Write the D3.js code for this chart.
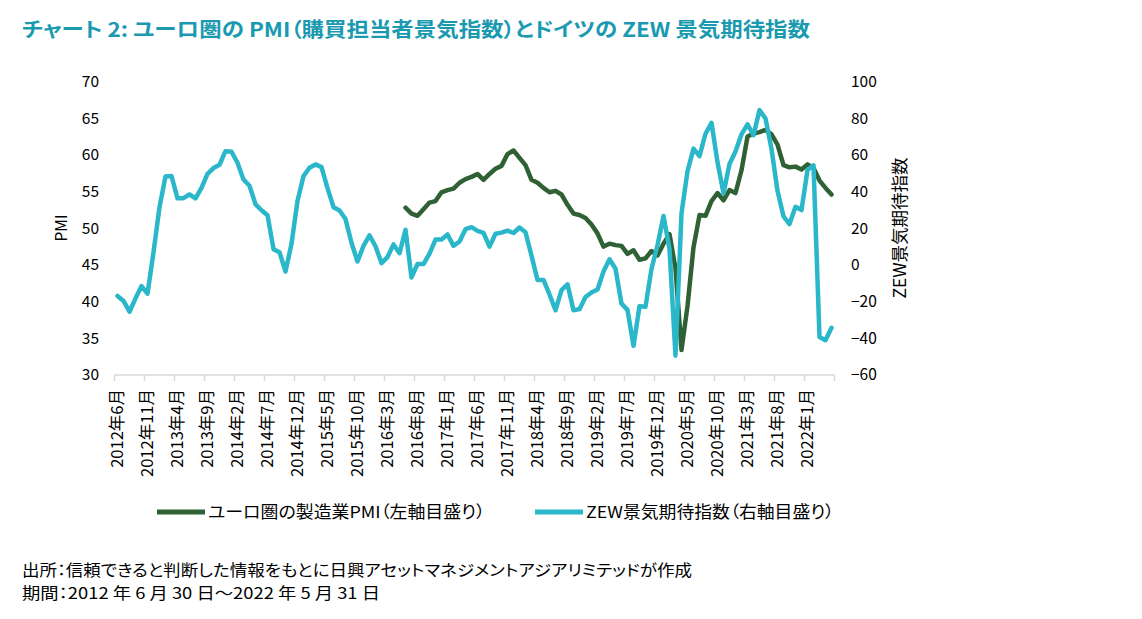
<!DOCTYPE html>
<html><head><meta charset="utf-8">
<script src="https://cdn.jsdelivr.net/npm/d3@7"></script>
<style>body{margin:0;background:#fff;} svg{display:block;} .p{font-feature-settings:"palt" 1;}</style>
</head><body><svg id="c" width="1142" height="619"></svg>
<script>
// Monthly categories 2012-06 .. 2022-05
const categories = [];
for (let y = 2012, m = 6; y < 2022 || (y === 2022 && m <= 5); ) {
  categories.push(y + "年" + m + "月");
  m++; if (m > 12) { m = 1; y++; }
}
// ZEW economic sentiment (right axis)
const zew = [
  -16.9,-19.6,-25.5,-18.2,-11.5,-15.7,6.9,
  31.5,48.2,48.5,36.3,36.4,38.5,36.3,42.0,49.6,52.8,54.6,62.0,
  61.7,55.7,46.6,43.2,33.1,29.8,27.1,8.6,6.9,-3.6,11.5,34.9,
  48.4,53.0,54.8,53.3,41.9,31.5,29.7,25.0,12.1,1.9,10.4,16.1,
  10.2,1.0,4.3,11.2,6.4,19.2,-6.8,0.5,0.5,6.2,13.8,13.8,
  16.6,10.4,12.8,19.5,20.6,18.6,17.5,10.0,17.0,17.6,18.7,17.4,
  20.4,17.8,5.1,-8.2,-8.2,-16.1,-24.7,-13.7,-10.6,-24.7,-24.1,-17.5,
  -15.0,-13.4,-3.6,3.1,-2.1,-21.1,-24.5,-44.1,-22.5,-22.8,-2.1,10.7,
  26.7,8.7,-49.5,28.2,51.0,63.4,59.3,71.5,77.4,56.1,39.0,55.0,
  61.8,71.2,76.6,70.7,84.4,79.8,63.3,40.4,26.5,22.3,31.7,29.9,
  51.7,54.3,-39.3,-41.0,-34.3
];
// Eurozone manufacturing PMI (left axis), starts 2016-06
const pmi = [
  ...Array(48).fill(null),
  52.8,52.0,51.7,52.6,53.5,53.7,54.9,
  55.2,55.4,56.2,56.7,57.0,57.4,56.6,57.4,58.1,58.5,60.1,60.6,
  59.6,58.6,56.6,56.2,55.5,54.9,55.1,54.6,53.2,52.0,51.8,51.4,
  50.5,49.3,47.5,47.9,47.7,47.6,46.5,47.0,45.7,45.9,46.9,46.3,
  47.9,49.2,44.5,33.4,39.4,47.4,51.8,51.7,53.7,54.8,53.8,55.2,
  54.8,57.9,62.5,62.9,63.1,63.4,62.8,61.4,58.6,58.3,58.4,58.0,
  58.7,58.2,56.5,55.5,54.6
];
const leftTicks = [30,35,40,45,50,55,60,65,70];
const rightTicks = [-60,-40,-20,0,20,40,60,80,100];
const xTickLabels = categories.filter((d,i) => i % 5 === 0);

const svg = d3.select("#c");
const F = "'Noto Sans CJK JP', 'Noto Sans', sans-serif";
const teal = "#2ab7ca", green = "#2f6134";

const x = d3.scaleBand().domain(categories).range([114.5, 834.5]).padding(0);
const yL = d3.scaleLinear().domain([30,70]).range([375, 81.5]);
const yR = d3.scaleLinear().domain([-60,100]).range([375, 81.5]);
const cx = d => x(d) + x.bandwidth()/2;

// Title
svg.append("text").attr("class","p").attr("x", 22).attr("y", 37)
  .attr("font-family", F).attr("font-weight", "bold").attr("font-size", 20)
  .attr("fill", "#1a9ab0")
  .attr("textLength", 788).attr("lengthAdjust", "spacingAndGlyphs")
  .text("チャート 2: ユーロ圏の PMI（購買担当者景気指数）とドイツの ZEW 景気期待指数");

// Left axis
const gL = svg.append("g").attr("transform", "translate(99,0)")
  .call(d3.axisLeft(yL).tickValues(leftTicks).tickSize(0).tickPadding(0));
gL.select(".domain").remove();
gL.selectAll("text").attr("font-family", F).attr("font-size", 15.5).attr("fill", "#000");

// Right axis
const gR = svg.append("g").attr("transform", "translate(851,0)")
  .call(d3.axisRight(yR).tickValues(rightTicks).tickSize(0).tickPadding(0).tickFormat(d3.format("d")));
gR.select(".domain").remove();
gR.selectAll("text").attr("font-family", F).attr("font-size", 15.5).attr("fill", "#000");

// Axis titles
svg.append("text").attr("transform", "translate(67,228) rotate(-90)")
  .attr("text-anchor", "middle").attr("font-family", F).attr("font-size", 15.5).text("PMI");
svg.append("text").attr("transform", "translate(906,228) rotate(-90)")
  .attr("text-anchor", "middle").attr("font-family", F).attr("font-size", 17.5).text("ZEW景気期待指数");

// X axis line and ticks
svg.append("line").attr("x1", 114.5).attr("x2", 834.5).attr("y1", 375).attr("y2", 375)
  .attr("stroke", "#d9d9d9").attr("stroke-width", 1.5);
const bounds = categories.filter((d,i) => i % 5 === 0).map(d => x(d)).concat([x.range()[1]]);
svg.selectAll(".xt").data(bounds).join("line").attr("class","xt")
  .attr("x1", d => d).attr("x2", d => d).attr("y1", 375).attr("y2", 381)
  .attr("stroke", "#d9d9d9").attr("stroke-width", 1.5);
svg.selectAll(".xl").data(xTickLabels).join("text").attr("class","xl")
  .attr("transform", d => `translate(${cx(d)+5.5},389) rotate(-90)`)
  .attr("text-anchor", "end").attr("font-family", F).attr("font-size", 16.5).attr("fill", "#000")
  .text(d => d);

// Lines
const lineZ = d3.line().x((d,i) => cx(categories[i])).y(d => yR(d));
const lineP = d3.line().defined(d => d !== null).x((d,i) => cx(categories[i])).y(d => yL(d));
svg.append("path").datum(pmi).attr("d", lineP).attr("fill", "none")
  .attr("stroke", green).attr("stroke-width", 4.5).attr("stroke-linejoin", "round").attr("stroke-linecap", "round");
svg.append("path").datum(zew).attr("d", lineZ).attr("fill", "none")
  .attr("stroke", teal).attr("stroke-width", 4.5).attr("stroke-linejoin", "round").attr("stroke-linecap", "round");

// Legend
const legend = [
  {t: "ユーロ圏の製造業PMI（左軸目盛り）", c: green, x: 157, w: 277},
  {t: "ZEW景気期待指数（右軸目盛り）", c: teal, x: 535, w: 248}
];
legend.forEach(l => {
  svg.append("line").attr("x1", l.x).attr("x2", l.x + 48).attr("y1", 512).attr("y2", 512)
    .attr("stroke", l.c).attr("stroke-width", 5);
  svg.append("text").attr("class","p").attr("x", l.x + 51).attr("y", 518).attr("font-family", F).attr("font-size", 16.5)
    .attr("textLength", l.w).attr("lengthAdjust", "spacingAndGlyphs").text(l.t);
});

// Footnotes
svg.append("text").attr("class","p").attr("x", 22).attr("y", 576).attr("font-family", F).attr("font-size", 15.5)
  .attr("textLength", 670).attr("lengthAdjust", "spacingAndGlyphs")
  .text("出所：信頼できると判断した情報をもとに日興アセットマネジメントアジアリミテッドが作成");
svg.append("text").attr("class","p").attr("x", 22).attr("y", 599).attr("font-family", F).attr("font-size", 15.5)
  .attr("textLength", 358).attr("lengthAdjust", "spacingAndGlyphs")
  .text("期間：2012 年 6 月 30 日～2022 年 5 月 31 日");
</script></body></html>
